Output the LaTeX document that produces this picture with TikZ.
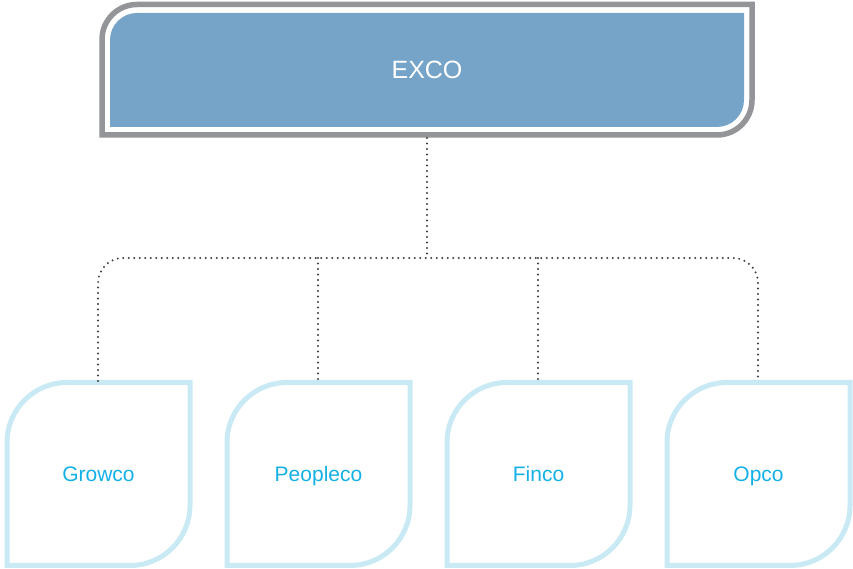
\documentclass[tikz,border=0pt]{standalone}
\usepackage{fontspec}
\setmainfont{Liberation Sans}
\definecolor{excofill}{HTML}{76A4C8}
\definecolor{excoframe}{HTML}{949598}
\definecolor{unitframe}{HTML}{C9EAF4}
\definecolor{unittext}{HTML}{14B1E7}
\definecolor{linkgray}{HTML}{3F3F3F}
\tikzset{
  frame/.style={draw=excoframe, line width=5.5pt},
  panel/.style={fill=excofill},
  unitbox/.style={draw=unitframe, line width=5pt, fill=white},
  unitlabel/.style={text=unittext, anchor=base, inner sep=0pt, font=\fontsize{21}{25}\selectfont},
  headlabel/.style={text=white, anchor=base, inner sep=0pt, font=\fontsize{25}{29}\selectfont},
  link/.style={draw=linkgray, line width=2.2pt, line cap=round, dash pattern=on 0pt off 5.5pt},
}
\begin{document}
\begin{tikzpicture}[x=1pt,y=1pt]
\useasboundingbox (0,0) rectangle (853,569);

% executive committee box: outer frame and inner panel
\draw[frame] (102,434) -- (102,529.5) arc[start angle=180,end angle=90,radius=35pt]
  -- (752,564.5) -- (752,469) arc[start angle=0,end angle=-90,radius=35pt] -- cycle;
\fill[panel] (110,442) -- (110,529) arc[start angle=180,end angle=90,radius=27pt]
  -- (744,556) -- (744,469) arc[start angle=0,end angle=-90,radius=27pt] -- cycle;
\node[headlabel] (exco) at (427,490.5) {EXCO};
\coordinate (exco-bottom) at (427,431);
\coordinate (bus) at (427,311);

% unit boxes
\foreach \L/\name/\txt in {7/growco/Growco, 227/peopleco/Peopleco, 447/finco/Finco, 667/opco/Opco}{
  \pgfmathsetmacro{\R}{\L+183}
  \draw[unitbox] (\L,3.5) -- (\L,126.5) arc[start angle=180,end angle=90,radius=60pt]
    -- (\R,186.5) -- (\R,63.5) arc[start angle=0,end angle=-90,radius=60pt] -- cycle;
  \node[unitlabel] (\name) at ({\L+91.5},87.5) {\txt};
  \coordinate (\name-top) at ({\L+91},188);
}

% dotted reporting lines
\draw[link] (exco-bottom) -- (bus);
\draw[link, rounded corners=25pt] (growco-top) -- (growco-top |- bus)
  -- (opco-top |- bus) -- (opco-top);
\draw[link] (peopleco-top |- bus) -- (peopleco-top);
\draw[link] (finco-top |- bus) -- (finco-top);
\end{tikzpicture}
\end{document}
